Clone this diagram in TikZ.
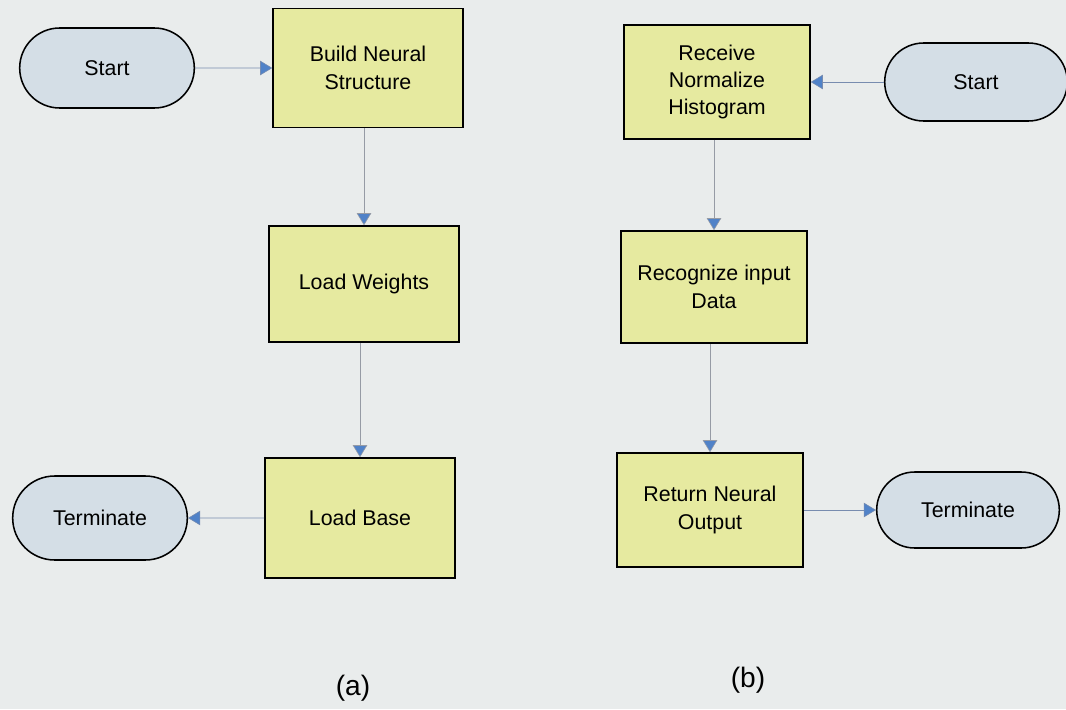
\documentclass[tikz,border=0pt]{standalone}
\usepackage{fontspec}
\setmainfont{Liberation Sans}
\usepackage{tikz}
\usetikzlibrary{arrows.meta, positioning, shapes.misc}

\definecolor{paper}{RGB}{233,236,236}
\definecolor{boxfill}{RGB}{230,234,160}
\definecolor{termfill}{RGB}{212,222,230}
\definecolor{linkcol}{RGB}{120,140,175}
\definecolor{downcol}{RGB}{150,155,165}
\definecolor{tipcol}{RGB}{80,130,200}

\begin{document}
\begin{tikzpicture}[>={Triangle[length=3mm, width=3.6mm, fill=tipcol]},
  every node/.style={font=\fontsize{15.2}{19.5}\selectfont, align=center},
  stepbox/.style={draw, line width=1.1pt, fill=boxfill, minimum width=4.75cm, minimum height=2.9cm},
  termbox/.style={draw, line width=1.1pt, rounded rectangle, fill=termfill, minimum width=4.6cm, minimum height=2cm},
  link/.style={->, draw=linkcol, thin},
  downlink/.style={link, draw=downcol}]
\fill[paper] (0,0) rectangle (26.65,-17.725);
\useasboundingbox (0,0) rectangle (26.65,-17.725);

% (a) loading the network
\node[termbox] (starta) at (2.675,-1.7) {Start};
\node[stepbox, minimum height=2.975cm] (build) at (9.2,-1.7) {Build Neural\\Structure};
\node[stepbox] (weights) at (9.1,-7.1) {Load Weights};
\node[stepbox, minimum height=3cm] (base) at (9.0,-12.95) {Load Base};
\node[termbox, minimum height=2.1cm] (terma) at (2.5,-12.95) {Terminate};
\node[font=\fontsize{20}{24}\selectfont] (capa) at (8.825,-17.2) {(a)};

% (b) recognition
\node[stepbox, minimum width=4.65cm, minimum height=2.85cm] (receive) at (17.925,-2.05) {Receive\\Normalize\\Histogram};
\node[stepbox, minimum width=4.65cm, minimum height=2.8cm] (recognize) at (17.85,-7.175) {Recognize input\\Data};
\node[stepbox, minimum width=4.65cm, minimum height=2.85cm] (output) at (17.75,-12.75) {Return Neural\\Output};
\node[termbox, minimum width=4.8cm, minimum height=1.95cm] (startb) at (24.4,-2.05) {Start};
\node[termbox, minimum width=4.8cm, minimum height=1.9cm] (termb) at (24.2,-12.75) {Terminate};
\node[font=\fontsize{20}{24}\selectfont] (capb) at (18.7,-17.0) {(b)};

\draw[link] (starta) -- (build);
\draw[downlink] (build.south -| weights) -- (weights);
\draw[downlink] (weights.south -| base) -- (base);
\draw[link] (base) -- (terma);

\draw[link] (startb) -- (receive);
\draw[downlink] (receive.south -| recognize) -- (recognize);
\draw[downlink] (recognize.south -| output) -- (output);
\draw[link] (output) -- (termb);
\end{tikzpicture}
\end{document}
